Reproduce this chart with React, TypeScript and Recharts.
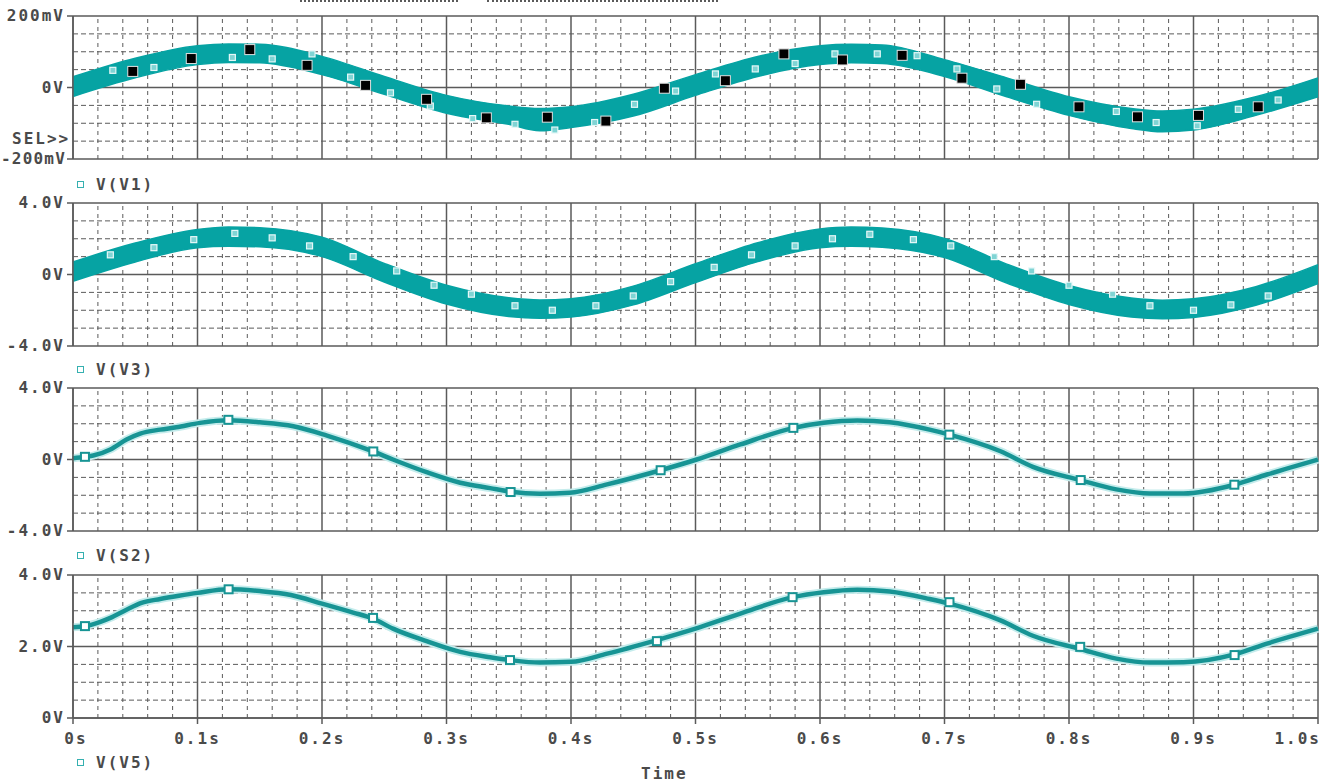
import React from 'react';
import { ComposedChart, Area, Line, Scatter, XAxis, YAxis, ReferenceLine } from 'recharts';

// time axis (seconds)
const majorTimes = [0, 0.1, 0.2, 0.3, 0.4, 0.5, 0.6, 0.7, 0.8, 0.9, 1.0];
const timeLabels = ['0s', '0.1s', '0.2s', '0.3s', '0.4s', '0.5s', '0.6s', '0.7s', '0.8s', '0.9s', '1.0s'];
const minorTimes = Array.from({ length: 51 }, (_, i) => +(i * 0.02).toFixed(2)).filter(
  (t) => Math.round(t * 100) % 10 !== 0
);

// V(V1) band, mV
const v1Time = [0, 0.05, 0.1, 0.125, 0.15, 0.2, 0.25, 0.3, 0.35, 0.375, 0.4, 0.45, 0.5, 0.55, 0.6, 0.625, 0.65, 0.7, 0.75, 0.8, 0.85, 0.875, 0.9, 0.95, 1.0];
const v1Low = [-25, 27, 64, 70, 69, 36, -19, -72, -103, -121, -112, -80, -22, 31, 64, 69, 67, 31, -26, -78, -115, -124, -119, -78, -26];
const v1High = [30, 82, 117, 122, 121, 87, 31, -22, -52, -59, -54, -19, 36, 87, 117, 121, 119, 78, 27, -26, -59, -66, -61, -26, 27];

// black cursor markers on V(V1)
const selTime = [0.048, 0.095, 0.142, 0.188, 0.235, 0.284, 0.332, 0.381, 0.428, 0.475, 0.524, 0.571, 0.618, 0.666, 0.714, 0.761, 0.808, 0.855, 0.904, 0.952];
const selValue = [45, 81, 106, 62, 6, -33, -85, -83, -94, -2, 19, 94, 77, 90, 26, 9, -54, -82, -78, -54];

// V(V1) trace symbols
const v1MarkTime = [0.032, 0.065, 0.128, 0.16, 0.192, 0.223, 0.255, 0.287, 0.321, 0.355, 0.387, 0.419, 0.451, 0.484, 0.516, 0.548, 0.58, 0.612, 0.646, 0.678, 0.71, 0.742, 0.774, 0.838, 0.87, 0.903, 0.936, 0.968];
const v1MarkValue = [48, 56, 84, 80, 94, 29, -15, -52, -87, -103, -119, -98, -47, -10, 38, 52, 67, 94, 94, 89, 52, -4, -47, -67, -98, -107, -61, -35];

// V(V3) band, V
const v3Time = v1Time;
const v3Low = [-0.38, 0.7, 1.5, 1.58, 1.55, 1.0, -0.42, -1.65, -2.35, -2.45, -2.38, -1.7, -0.45, 0.72, 1.5, 1.58, 1.52, 0.95, -0.48, -1.68, -2.38, -2.48, -2.4, -1.72, -0.5];
const v3High = [0.7, 1.76, 2.52, 2.66, 2.62, 2.08, 0.62, -0.6, -1.3, -1.42, -1.35, -0.65, 0.6, 1.78, 2.55, 2.66, 2.6, 2.02, 0.58, -0.62, -1.32, -1.44, -1.36, -0.68, 0.55];
const v3MarkTime = [0.03, 0.065, 0.097, 0.13, 0.16, 0.19, 0.225, 0.26, 0.29, 0.32, 0.355, 0.385, 0.42, 0.45, 0.48, 0.515, 0.545, 0.58, 0.61, 0.64, 0.675, 0.705, 0.74, 0.77, 0.8, 0.835, 0.865, 0.9, 0.93, 0.96];
const v3MarkValue = [1.1, 1.5, 1.95, 2.3, 2.05, 1.6, 1.0, 0.2, -0.6, -1.1, -1.75, -2.0, -1.75, -1.2, -0.4, 0.4, 1.1, 1.6, 2.0, 2.25, 1.95, 1.6, 1.0, 0.2, -0.6, -1.1, -1.75, -2.0, -1.7, -1.2];

// V(S2), V
const s2Time = [0, 0.0096, 0.0163, 0.03, 0.043, 0.054, 0.07, 0.083, 0.102, 0.125, 0.15, 0.177, 0.204, 0.241, 0.257, 0.284, 0.311, 0.335, 0.3515, 0.375, 0.399, 0.429, 0.472, 0.501, 0.536, 0.579, 0.603, 0.63, 0.656, 0.688, 0.704, 0.745, 0.771, 0.809, 0.838, 0.865, 0.892, 0.933, 0.959, 1.0];
const s2Value = [0.07, 0.15, 0.22, 0.56, 1.12, 1.45, 1.67, 1.8, 2.05, 2.19, 2.08, 1.86, 1.34, 0.45, 0.0, -0.71, -1.3, -1.6, -1.8, -1.91, -1.86, -1.39, -0.6, 0.0, 0.84, 1.77, 2.05, 2.18, 2.08, 1.67, 1.39, 0.46, -0.41, -1.15, -1.67, -1.9, -1.9, -1.41, -0.84, 0.0];
const s2MarkTime = [0.0096, 0.1248, 0.2412, 0.3515, 0.472, 0.5786, 0.7039, 0.8094, 0.9328];
const s2MarkValue = [0.15, 2.22, 0.45, -1.82, -0.6, 1.77, 1.39, -1.15, -1.41];

// V(V5), V
const v5Time = [0, 0.0096, 0.022, 0.03, 0.043, 0.055, 0.07, 0.085, 0.1, 0.125, 0.15, 0.175, 0.2, 0.225, 0.241, 0.257, 0.284, 0.311, 0.335, 0.351, 0.375, 0.4, 0.429, 0.469, 0.5, 0.536, 0.578, 0.603, 0.63, 0.656, 0.688, 0.704, 0.745, 0.771, 0.809, 0.838, 0.865, 0.892, 0.933, 0.959, 1.0];
const v5Value = [2.54, 2.57, 2.69, 2.8, 3.03, 3.22, 3.33, 3.42, 3.5, 3.6, 3.55, 3.44, 3.2, 2.95, 2.78, 2.5, 2.15, 1.85, 1.7, 1.62, 1.55, 1.57, 1.8, 2.18, 2.5, 2.92, 3.38, 3.52, 3.59, 3.54, 3.33, 3.2, 2.73, 2.3, 1.93, 1.66, 1.55, 1.56, 1.78, 2.08, 2.5];
const v5MarkTime = [0.0096, 0.125, 0.241, 0.351, 0.469, 0.578, 0.704, 0.809, 0.933];
const v5MarkValue = [2.57, 3.6, 2.8, 1.62, 2.15, 3.38, 3.24, 1.99, 1.76];

const TEAL = '#06a3a3';
const TRACE = '#179494';
const GRID = '#5a5a5a';
const TEXT = '#4a4a4a';
const FONT = '"DejaVu Sans Mono", monospace';

const toBand = (ts: number[], lo: number[], hi: number[]) => ts.map((t, i) => ({ t, band: [lo[i], hi[i]] }));
const toPoints = (ts: number[], vs: number[]) => ts.map((t, i) => ({ t, v: vs[i] }));

const gridLines = (yMajor: number[], yMinor: number[]) => [
  ...minorTimes.map((t) => (
    <ReferenceLine key={'mx' + t} x={t} stroke={GRID} strokeDasharray="4 4" strokeWidth={1} zIndex={-60} />
  )),
  ...yMinor.map((v) => (
    <ReferenceLine key={'my' + v} y={v} stroke={GRID} strokeDasharray="5 3" strokeWidth={1} zIndex={-60} />
  )),
  ...majorTimes.map((t) => (
    <ReferenceLine key={'Mx' + t} x={t} stroke={GRID} strokeWidth={1.5} zIndex={-50} />
  )),
  ...yMajor.map((v) => (
    <ReferenceLine key={'My' + v} y={v} stroke={GRID} strokeWidth={1.5} zIndex={-50} />
  )),
];

const yTick = (labels: Record<string, string>) => (props: any) => {
  const { x, y, payload } = props;
  const label = labels[String(payload.value)] || '';
  const long = label.length > 5;
  return (
    <text x={x + (long ? 2 : 1)} y={y} dy={5} textAnchor="end" fill={TEXT} fontFamily={FONT} fontWeight="bold" fontSize={16} letterSpacing={long ? 1.2 : 2}>
      {label}
    </text>
  );
};

const XTick = (props: any) => {
  const { x, y, index } = props;
  const last = index === majorTimes.length - 1;
  return (
    <text x={last ? x + 3 : x + (index === 0 ? 3 : 0)} y={y} dy={18} textAnchor={last ? 'end' : 'middle'} fill={TEXT} fontFamily={FONT} fontWeight="bold" fontSize={16} letterSpacing={2}>
      {timeLabels[index]}
    </text>
  );
};

const blackSquare = (p: any) => (
  <rect x={p.cx - 5} y={p.cy - 5} width={10} height={10} fill="#000" stroke="#e0e0e0" strokeWidth={1} />
);
const smallSquare = (p: any) => (
  <rect x={p.cx - 3} y={p.cy - 3} width={6} height={6} fill="#7fd4d4" stroke="#e6f8f8" strokeWidth={1.2} />
);
const hollowSquare = (p: any) => (
  <rect x={p.cx - 4} y={p.cy - 4} width={8} height={8} fill="#ffffff" stroke={TRACE} strokeWidth={2} />
);

const LegendItem = ({ top, label }: { top: number; label: string }) => (
  <div style={{ position: 'absolute', left: 77, top: top - 10, height: 20, display: 'flex', alignItems: 'center' }}>
    <div style={{ width: 5, height: 5, border: '1.5px solid #35b0b0', marginRight: 12 }} />
    <span style={{ fontFamily: FONT, fontWeight: 'bold', fontSize: 16, letterSpacing: 2, color: TEXT }}>{label}</span>
  </div>
);

const yAxisProps = {
  type: 'number' as const,
  width: 73,
  tickSize: 6,
  tickMargin: 3,
  allowDataOverflow: true,
  axisLine: { stroke: GRID, strokeWidth: 1.5 },
  tickLine: { stroke: GRID, strokeWidth: 1.5 },
  interval: 0 as const,
};

export default function App() {
  const margin = { top: 16, right: 19, bottom: 16, left: 0 };
  return (
    <div style={{ position: 'absolute', left: 0, top: 0, width: 1337, height: 783, background: '#fff', overflow: 'hidden' }}>
      <div style={{ position: 'absolute', left: 300, top: 0, width: 158, borderTop: `2px dotted ${GRID}` }} />
      <div style={{ position: 'absolute', left: 487, top: 0, width: 231, borderTop: `2px dotted ${GRID}` }} />

      {/* V(V1) */}
      <div style={{ position: 'absolute', left: 0, top: 0 }}>
        <ComposedChart width={1337} height={175} margin={margin}>
          <XAxis type="number" dataKey="t" domain={[0, 1]} hide />
          <YAxis {...yAxisProps} domain={[-200, 200]} ticks={[-200, 0, 200]} tick={yTick({ '-200': '-200mV', '0': '0V', '200': '200mV' })} />
          {gridLines([-200, 0, 200], [-150, -100, -50, 50, 100, 150])}
          <Area data={toBand(v1Time, v1Low, v1High)} dataKey="band" type="monotone" fill={TEAL} fillOpacity={1} stroke={TEAL} strokeWidth={1.5} isAnimationActive={false} />
          <Scatter data={toPoints(v1MarkTime, v1MarkValue)} dataKey="v" shape={smallSquare} isAnimationActive={false} />
          <Scatter data={toPoints(selTime, selValue)} dataKey="v" shape={blackSquare} isAnimationActive={false} />
        </ComposedChart>
      </div>
      <div style={{ position: 'absolute', left: 12, top: 129, fontFamily: FONT, fontWeight: 'bold', fontSize: 16, letterSpacing: 2, color: TEXT }}>SEL&gt;&gt;</div>
      <LegendItem top={184} label="V(V1)" />

      {/* V(V3) */}
      <div style={{ position: 'absolute', left: 0, top: 187 }}>
        <ComposedChart width={1337} height={175} margin={margin}>
          <XAxis type="number" dataKey="t" domain={[0, 1]} hide />
          <YAxis {...yAxisProps} domain={[-4, 4]} ticks={[-4, 0, 4]} tick={yTick({ '-4': '-4.0V', '0': '0V', '4': '4.0V' })} />
          {gridLines([-4, 0, 4], [-3, -2, -1, 1, 2, 3])}
          <Area data={toBand(v3Time, v3Low, v3High)} dataKey="band" type="monotone" fill={TEAL} fillOpacity={1} stroke={TEAL} strokeWidth={1.5} isAnimationActive={false} />
          <Scatter data={toPoints(v3MarkTime, v3MarkValue)} dataKey="v" shape={smallSquare} isAnimationActive={false} />
        </ComposedChart>
      </div>
      <LegendItem top={369} label="V(V3)" />

      {/* V(S2) */}
      <div style={{ position: 'absolute', left: 0, top: 372 }}>
        <ComposedChart width={1337} height={175} margin={margin}>
          <XAxis type="number" dataKey="t" domain={[0, 1]} hide />
          <YAxis {...yAxisProps} domain={[-4, 4]} ticks={[-4, 0, 4]} tick={yTick({ '-4': '-4.0V', '0': '0V', '4': '4.0V' })} />
          {gridLines([-4, 0, 4], [-3, -2, -1, 1, 2, 3])}
          <Line data={toPoints(s2Time, s2Value)} dataKey="v" type="monotone" stroke="#c4ecec" strokeWidth={8} dot={false} isAnimationActive={false} />
          <Line data={toPoints(s2Time, s2Value)} dataKey="v" type="monotone" stroke={TRACE} strokeWidth={4.5} dot={false} isAnimationActive={false} />
          <Scatter data={toPoints(s2MarkTime, s2MarkValue)} dataKey="v" shape={hollowSquare} isAnimationActive={false} />
        </ComposedChart>
      </div>
      <LegendItem top={555} label="V(S2)" />

      {/* V(V5) */}
      <div style={{ position: 'absolute', left: 0, top: 559 }}>
        <ComposedChart width={1337} height={224} margin={{ top: 16, right: 19, bottom: 35, left: 0 }}>
          <XAxis
            type="number"
            dataKey="t"
            domain={[0, 1]}
            ticks={majorTimes}
            interval={0}
            height={30}
            tickSize={6}
            tickMargin={2}
            axisLine={{ stroke: GRID, strokeWidth: 1.5 }}
            tickLine={{ stroke: GRID, strokeWidth: 1.5 }}
            tick={XTick}
          />
          <YAxis {...yAxisProps} domain={[0, 4]} ticks={[0, 2, 4]} tick={yTick({ '0': '0V', '2': '2.0V', '4': '4.0V' })} />
          {gridLines([0, 2, 4], [0.5, 1, 1.5, 2.5, 3, 3.5])}
          <Line data={toPoints(v5Time, v5Value)} dataKey="v" type="monotone" stroke="#c4ecec" strokeWidth={8} dot={false} isAnimationActive={false} />
          <Line data={toPoints(v5Time, v5Value)} dataKey="v" type="monotone" stroke={TRACE} strokeWidth={4.5} dot={false} isAnimationActive={false} />
          <Scatter data={toPoints(v5MarkTime, v5MarkValue)} dataKey="v" shape={hollowSquare} isAnimationActive={false} />
        </ComposedChart>
      </div>
      <LegendItem top={762} label="V(V5)" />
      <div style={{ position: 'absolute', left: 641, top: 766, lineHeight: '16px', fontFamily: FONT, fontWeight: 'bold', fontSize: 16, letterSpacing: 2, color: TEXT }}>Time</div>
    </div>
  );
}
